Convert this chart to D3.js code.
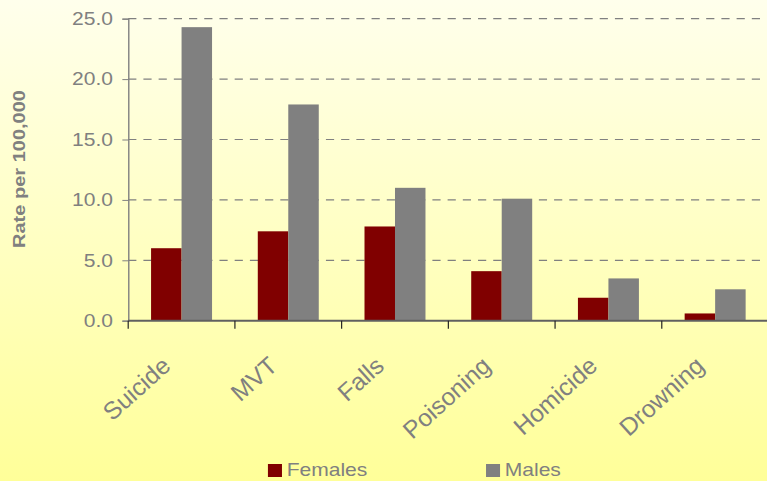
<!DOCTYPE html>
<html>
<head>
<meta charset="utf-8">
<script src="https://cdn.jsdelivr.net/npm/d3@7"></script>
<style>
  body { margin: 0; padding: 0; }
  text { font-family: Arial, "Liberation Sans", sans-serif; }
</style>
</head>
<body>
<div id="chart"></div>
<script>
// data
const causes = ["Suicide", "MVT", "Falls", "Poisoning", "Homicide", "Drowning"]
const seriesNames = ["Females", "Males"]
const females = [6.0, 7.4, 7.8, 4.1, 1.9, 0.6]
const males = [24.3, 17.9, 11.0, 10.1, 3.5, 2.6]
const yTicks = [0, 5, 10, 15, 20, 25]

const colors = { Females: "#800000", Males: "#808080" }

// the picture is stretched sideways, so draw in a narrower box and let the svg stretch it
const stretch = 1.17
const W = 767 / stretch
const H = 481

const svg = d3.select("#chart").append("svg")
    .attr("width", 767)
    .attr("height", 481)
    .attr("viewBox", `0 0 ${W} ${H}`)
    .attr("preserveAspectRatio", "none")
    .style("display", "block")

const defs = svg.append("defs")
const grad = defs.append("linearGradient")
    .attr("id", "bg")
    .attr("x1", 0).attr("y1", 0)
    .attr("x2", 0).attr("y2", 1)
grad.append("stop").attr("offset", "0%").attr("stop-color", "#ffffec")
grad.append("stop").attr("offset", "100%").attr("stop-color", "#ffff99")

svg.append("rect")
    .attr("width", W)
    .attr("height", H)
    .attr("fill", "url(#bg)")

const plotLeft = 128.2 / stretch
const plotRight = 768.5 / stretch
const plotTop = 18.7
const plotBottom = 320.7

const x0 = d3.scaleBand().domain(causes).range([plotLeft, plotRight]).padding(0)
const x1 = d3.scaleBand().domain(seriesNames).range([0, x0.bandwidth()])
    .paddingInner(0).paddingOuter(0.75)
const y = d3.scaleLinear().domain([0, 25]).range([plotBottom, plotTop])

// gridlines
svg.append("g")
    .selectAll("line")
    .data(yTicks.filter(d => d > 0))
    .join("line")
    .attr("x1", plotLeft)
    .attr("x2", plotRight)
    .attr("y1", d => y(d))
    .attr("y2", d => y(d))
    .attr("stroke", "#808080")
    .attr("stroke-width", 1.2)
    .attr("stroke-dasharray", "7,6")

// y axis
const yAxis = svg.append("g")
    .attr("transform", `translate(${plotLeft},0)`)
    .call(d3.axisLeft(y).tickValues(yTicks).tickFormat(d3.format(".1f")).tickSize(5).tickPadding(8))
yAxis.select(".domain").attr("stroke", "#808080").attr("stroke-width", 1.2)
yAxis.selectAll(".tick line").attr("stroke", "#808080")
yAxis.selectAll(".tick text")
    .attr("fill", "#808080")
    .style("font-size", "18px")

// bars
const data = causes.map((c, i) => ({ cause: c, Females: females[i], Males: males[i] }))

svg.append("g")
    .selectAll("g")
    .data(data)
    .join("g")
    .attr("transform", d => `translate(${x0(d.cause)},0)`)
    .selectAll("rect")
    .data(d => seriesNames.map(s => ({ key: s, value: d[s] })))
    .join("rect")
    .attr("x", d => x1(d.key))
    .attr("width", x1.bandwidth())
    .attr("y", d => y(d.value))
    .attr("height", d => y(0) - y(d.value))
    .attr("fill", d => colors[d.key])

// x axis
const xAxis = svg.append("g")
    .attr("transform", `translate(0,${plotBottom})`)
xAxis.append("line")
    .attr("x1", plotLeft)
    .attr("x2", plotRight)
    .attr("stroke", "#606060")
    .attr("stroke-width", 2)
xAxis.selectAll(".xtick")
    .data(causes)
    .join("line")
    .attr("class", "xtick")
    .attr("x1", d => x0(d))
    .attr("x2", d => x0(d))
    .attr("y1", 0)
    .attr("y2", 8)
    .attr("stroke", "#202020")
    .attr("stroke-width", 1)

// rotated labels are not stretched, so undo the stretch for them
const plain = svg.append("g")
    .attr("transform", `scale(${1 / stretch},1)`)

plain.append("g")
    .selectAll("text")
    .data(causes)
    .join("text")
    .attr("transform", d => `translate(${(x0(d) + x0.bandwidth() / 2) * stretch - 9.5},368) rotate(-42)`)
    .attr("text-anchor", "end")
    .attr("fill", "#808080")
    .style("font-size", "24.5px")
    .text(d => d)

// y label
plain.append("text")
    .attr("transform", `translate(25,169) rotate(-90)`)
    .attr("text-anchor", "middle")
    .attr("fill", "#808080")
    .attr("textLength", 158)
    .attr("lengthAdjust", "spacingAndGlyphs")
    .style("font-size", "16px")
    .style("font-weight", "bold")
    .text("Rate per 100,000")

// legend
const legendX = [229, 415.4]
const legend = svg.append("g")
    .selectAll("g")
    .data(seriesNames)
    .join("g")
    .attr("transform", (d, i) => `translate(${legendX[i]},464)`)
legend.append("rect")
    .attr("width", 12)
    .attr("height", 13)
    .attr("fill", d => colors[d])
legend.append("text")
    .attr("x", 16)
    .attr("y", 11.5)
    .attr("fill", "#808080")
    .style("font-size", "18px")
    .text(d => d)
</script>
</body>
</html>
